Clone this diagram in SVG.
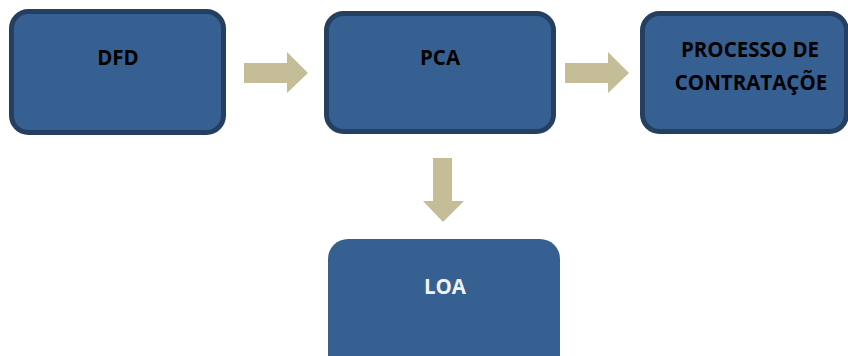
<svg xmlns="http://www.w3.org/2000/svg" width="848" height="356" viewBox="0 0 848 356">
<style>
.box{fill:#376092;stroke:#243f60;stroke-width:5}
.plain{fill:#376092}
.arr{fill:#c4bd97}
.t{font-family:"Open Sans","Noto Sans",sans-serif;font-weight:bold;font-size:20.5px;text-anchor:middle;fill:#000}
.w{fill:#f2f2f2}
</style>
<rect width="848" height="356" fill="#ffffff"/>
<g id="connectors">
<polygon class="arr" points="244,63 287,63 287,52 308,73 287,93 287,83 244,83"/>
<polygon class="arr" points="565,63 608,63 608,52 629,73 608,93 608,83 565,83"/>
<polygon class="arr" points="433,158 452,158 452,201 464,201 443,222 423,201 433,201"/>
</g>
<g id="dfd">
<rect class="box" x="11.5" y="11.5" width="212" height="121" rx="17"/>
<text class="t" x="118" y="65">DFD</text>
</g>
<g id="pca">
<rect class="box" x="326.5" y="13.5" width="227" height="118" rx="17"/>
<text class="t" x="440" y="65">PCA</text>
</g>
<g id="processo">
<rect class="box" x="642.5" y="13.5" width="204" height="118" rx="17"/>
<text class="t" x="750" y="57">PROCESSO DE</text>
<text class="t" x="751" y="90">CONTRATAÇÕE</text>
</g>
<g id="loa">
<rect class="plain" x="328" y="239" width="232" height="140" rx="20"/>
<text class="t w" x="445" y="294">LOA</text>
</g>
</svg>
